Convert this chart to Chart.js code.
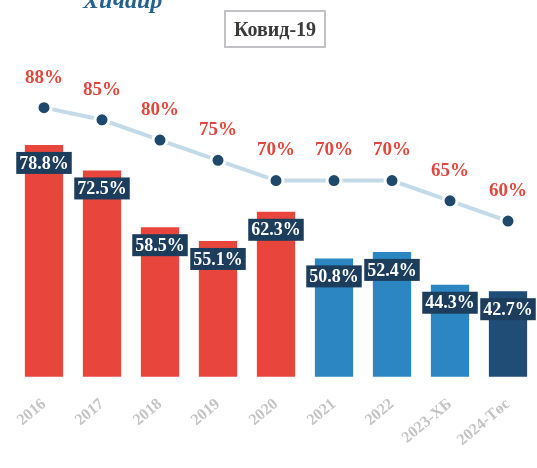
<!DOCTYPE html>
<html>
<head>
<meta charset="utf-8">
<script src="https://cdn.jsdelivr.net/npm/chart.js@4.4.1/dist/chart.umd.min.js"></script>
<style>
  html, body { margin: 0; padding: 0; background: #ffffff; }
  #wrap { position: relative; width: 537px; height: 468px; overflow: hidden; }
  #chart { position: absolute; left: 0; top: 0; }
  .corner {
    position: absolute; left: 83px; top: -13px;
    font: italic bold 24px "Liberation Serif", serif; color: #22628f;
  }
  .badge {
    position: absolute; left: 224px; top: 10px; width: 98px; height: 34px;
    border: 2px solid #c2c2c6; box-sizing: content-box;
    font: bold 20px "Liberation Serif", serif; color: #3a3a3a;
    display: flex; align-items: center; justify-content: center;
  }
</style>
</head>
<body>
<div id="wrap">
  <!-- canvas is a bit wider than the frame; the extra strip on the right is clipped -->
  <canvas id="chart" width="547" height="468"></canvas>
  <div class="corner">Хичаир</div>
  <div class="badge">Ковид-19</div>
</div>
<script>
const years = ['2016', '2017', '2018', '2019', '2020', '2021', '2022', '2023-ХБ', '2024-Төс'];
const actualValues = [78.8, 72.5, 58.5, 55.1, 62.3, 50.8, 52.4, 44.3, 42.7];
const targetValues = [88, 85, 80, 75, 70, 70, 70, 65, 60];
const barColors = ['#e8463d', '#e8463d', '#e8463d', '#e8463d', '#e8463d', '#2b86c2', '#2b86c2', '#2b86c2', '#1f4d76'];

// draws the value tags: navy boxes on the bars, red text over the line
const valueTags = {
    id: 'valueTags',
    afterDatasetsDraw(chart) {
        const ctx = chart.ctx;
        ctx.save();
        ctx.textAlign = 'center';
        ctx.textBaseline = 'middle';

        const bars = chart.getDatasetMeta(0).data;
        ctx.font = 'bold 18px "Liberation Serif", serif';
        bars.forEach((bar, i) => {
            const text = actualValues[i].toFixed(1) + '%';
            const w = ctx.measureText(text).width + 6;
            const cy = bar.y + 18;
            ctx.fillStyle = '#1c3d5c';
            ctx.fillRect(bar.x - w / 2, cy - 11, w, 22);
            ctx.fillStyle = '#ffffff';
            ctx.fillText(text, bar.x, cy + 1);
        });

        const points = chart.getDatasetMeta(1).data;
        ctx.font = 'bold 19px "Liberation Serif", serif';
        ctx.fillStyle = '#e2473d';
        points.forEach((pt, i) => {
            ctx.fillText(targetValues[i] + '%', pt.x, pt.y - 30);
        });
        ctx.restore();
    }
};

new Chart(document.getElementById('chart'), {
    data: {
        labels: years,
        datasets: [
            {
                type: 'bar',
                data: actualValues,
                backgroundColor: barColors,
                categoryPercentage: 1,
                barPercentage: 0.66,
                order: 2
            },
            {
                type: 'line',
                data: targetValues,
                borderColor: '#c3dbe8',
                borderWidth: 4,
                pointRadius: 7,
                pointBackgroundColor: '#1e496c',
                pointBorderColor: '#ffffff',
                pointBorderWidth: 3,
                tension: 0,
                order: 1
            }
        ]
    },
    options: {
        responsive: false,
        animation: false,
        layout: { padding: { left: 15, right: 0, top: 59, bottom: 8 } },
        plugins: {
            legend: { display: false },
            tooltip: { enabled: false }
        },
        scales: {
            y: {
                display: false,
                min: 21.6,
                max: 100
            },
            x: {
                grid: { display: false },
                border: { display: false },
                ticks: {
                    color: '#c4c4c4',
                    font: { family: '"Liberation Serif", serif', size: 16, weight: 'bold' },
                    maxRotation: 40,
                    minRotation: 40,
                    padding: 10
                }
            }
        }
    },
    plugins: [valueTags]
});
</script>
</body>
</html>
